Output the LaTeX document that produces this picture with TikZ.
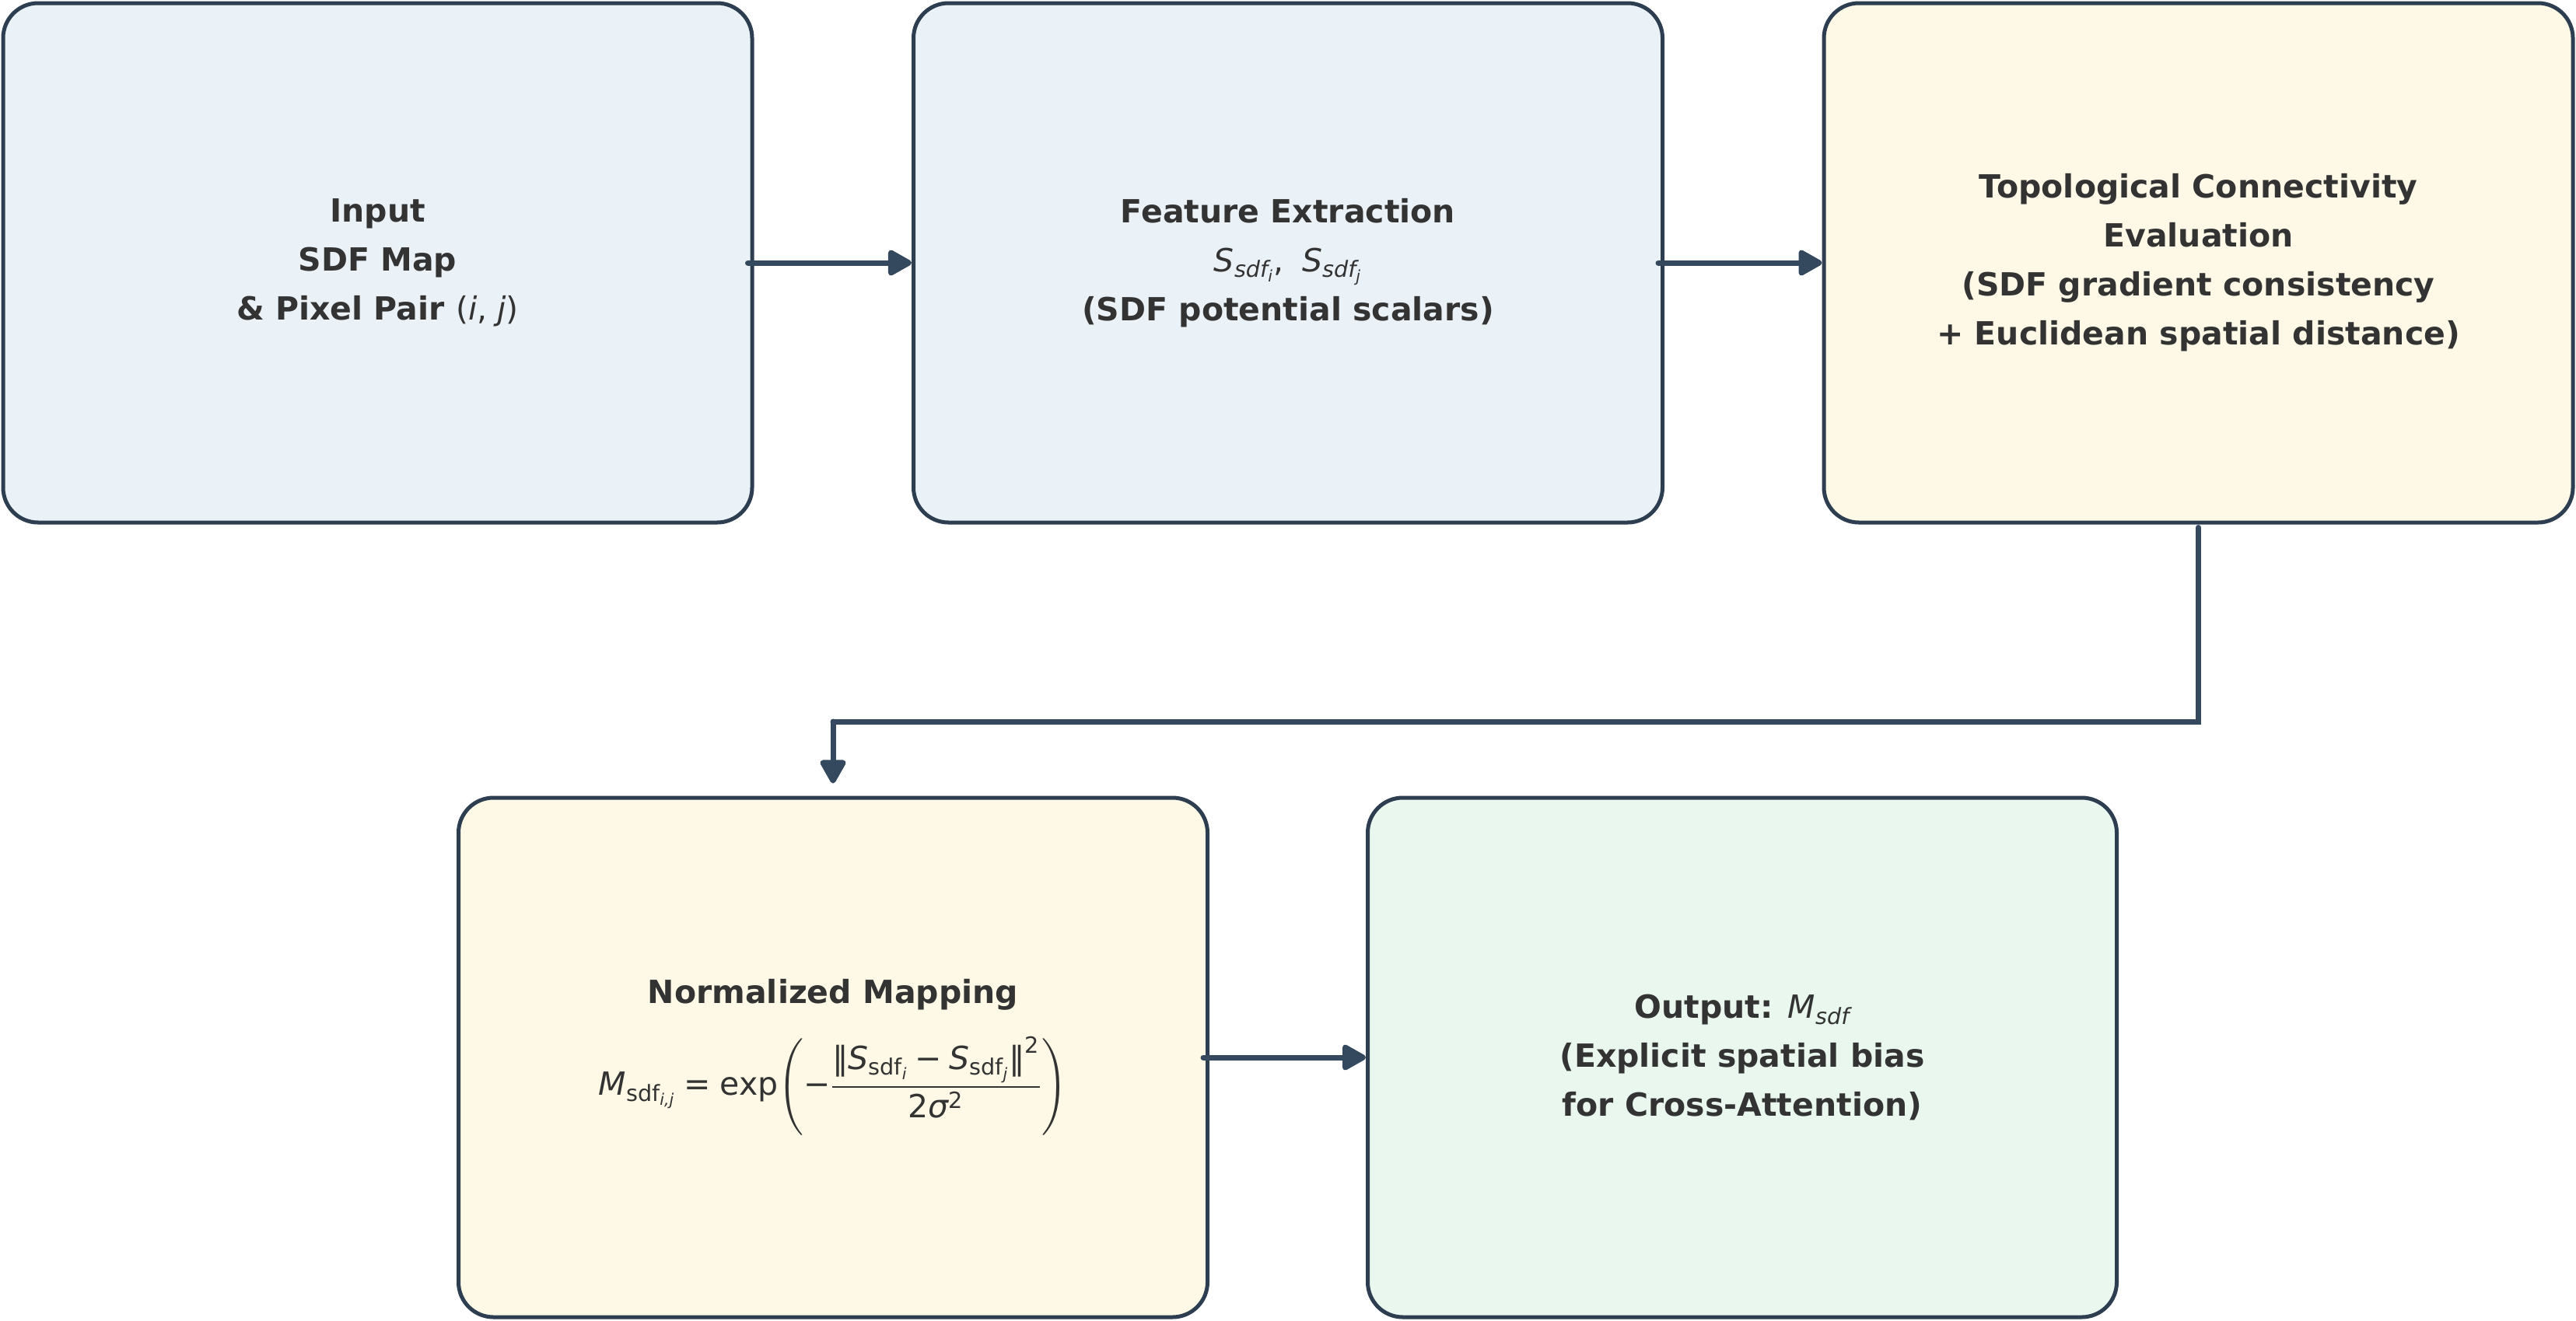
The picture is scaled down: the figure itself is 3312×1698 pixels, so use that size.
\documentclass[tikz,border=0pt]{standalone}
\usepackage{fontspec}
\usepackage{amsmath}
\setmainfont{DejaVu Sans}
\usetikzlibrary{arrows.meta}
\definecolor{boxline}{HTML}{2C3E50}
\definecolor{arrowc}{HTML}{34495E}
\definecolor{txt}{HTML}{333333}
\definecolor{fblue}{HTML}{EAF2F8}
\definecolor{fyellow}{HTML}{FEF9E7}
\definecolor{fgreen}{HTML}{E9F7EF}
\newcommand\mt[1]{\text{\mdseries\itshape #1}}
\newcommand\mr[1]{\text{\mdseries\upshape #1}}
\tikzset{
  stagebox/.style={draw=boxline, line width=2.5pt, rounded corners=22.5pt,
    minimum width=481.5pt, minimum height=334pt, align=center, text=txt,
    inner sep=0pt, font=\fontsize{20.5}{31.5}\selectfont\bfseries},
  flow/.style={draw=arrowc, line width=3.5pt, line cap=round},
  flowarrow/.style={flow, -{Triangle[length=17pt,width=18pt,round]}}
}
\begin{document}
\begin{tikzpicture}[x=0.5pt,y=-0.5pt]
\useasboundingbox (0,0) rectangle (3312,1698);
\node[stagebox, fill=fblue] (inp) at (485.5,338) {Input\\SDF Map\\\& Pixel Pair {\mdseries(\textit{i}, \textit{j})}};
\node[stagebox, fill=fblue] (feat) at (1656,338) {Feature Extraction\\$\mt{S}_{\mt{sdf}_{\mt{i}}}\mr{,}\;\;\mt{S}_{\mt{sdf}_{\mt{j}}}$\\(SDF potential scalars)};
\node[stagebox, fill=fyellow] (topo) at (2826.5,338) {Topological Connectivity\\Evaluation\\(SDF gradient consistency\\+ Euclidean spatial distance)};
\node[stagebox, fill=fyellow] (norm) at (1071,1360) {Normalized Mapping\\[16pt]
$\displaystyle \mt{M}_{\mr{sdf}_{\mt{i,j}}} \mathrel{\mr{=}} \mr{exp}\!\left(\mr{−}\frac{\mr{‖}\mt{S}_{\mr{sdf}_{\mt{i}}} \mathbin{\mr{−}} \mt{S}_{\mr{sdf}_{\mt{j}}}\mr{‖}^{\mr{2}}}{\mr{2}\mt{σ}^{\mr{2}}}\right)$};
\node[stagebox, fill=fgreen] (out) at (2240,1360) {Output: $\mt{M}_{\mt{sdf}}$\\(Explicit spatial bias\\for Cross-Attention)};
\coordinate (elbowR) at (topo.south |- 0,928);
\coordinate (elbowL) at (norm.north |- 0,928);
\draw[flowarrow] ([xshift=-4pt]inp.east) -- (feat.west);
\draw[flowarrow] ([xshift=-4pt]feat.east) -- (topo.west);
\draw[flow] ([yshift=-2pt]topo.south) -- (elbowR) -- (elbowL);
\draw[flowarrow] (elbowL) -- ([yshift=8pt]norm.north);
\draw[flowarrow] ([xshift=-4pt]norm.east |- out.west) -- (out.west);
\end{tikzpicture}
\end{document}
